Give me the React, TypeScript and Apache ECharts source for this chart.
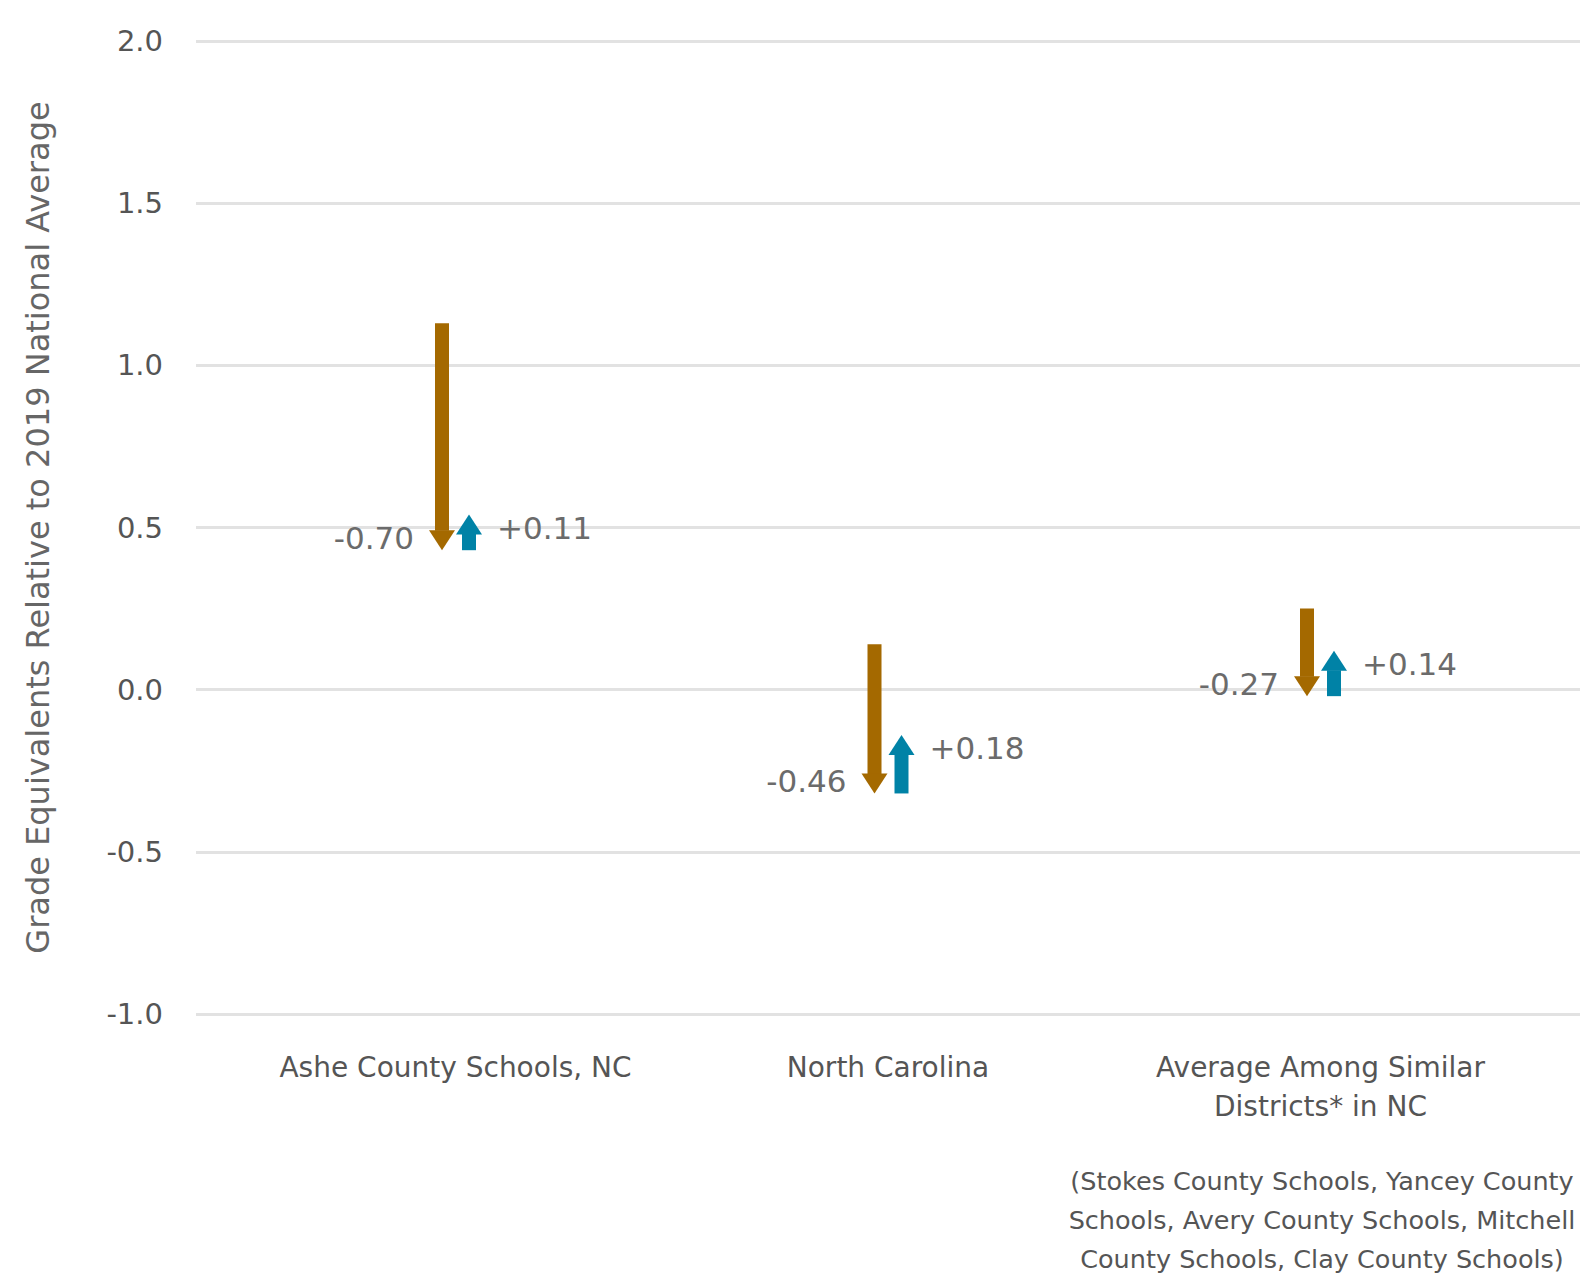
import React, { useEffect, useRef } from "react";
import * as echarts from "echarts";

const categories = [
  "Ashe County Schools, NC",
  "North Carolina",
  "Average Among Similar\nDistricts* in NC",
];
const baseline2019 = [1.13, 0.14, 0.25];
const decline = [-0.7, -0.46, -0.27];
const recovery = [0.11, 0.18, 0.14];
const yTicks = { min: -1.0, max: 2.0, interval: 0.5 };
const footnote =
  "(Stokes County Schools, Yancey County\nSchools, Avery County Schools, Mitchell\nCounty Schools, Clay County Schools)";

const BROWN = "#A46900";
const BLUE = "#0082A6";
const FONT = "DejaVu Sans";

export default function App() {
  const ref = useRef<HTMLDivElement>(null);
  useEffect(() => {
    document.body.style.margin = "0";
    if (!ref.current) return;
    const chart = echarts.init(ref.current, undefined, { renderer: "svg" });

    const dropData = categories.map((_, i) => [
      i,
      baseline2019[i],
      +(baseline2019[i] + decline[i]).toFixed(2),
      decline[i],
    ]);
    const recData = categories.map((_, i) => {
      const s = +(baseline2019[i] + decline[i]).toFixed(2);
      return [i, s, +(s + recovery[i]).toFixed(2), recovery[i]];
    });

    const headH = 20;
    const headW = 13;
    const shaftW = 7;

    const option: any = {
      animation: false,
      grid: { left: 196, right: 3, top: 41, bottom: 261, containLabel: false },
      xAxis: {
        type: "value",
        min: -0.6,
        max: 2.6,
        interval: 0.2,
        axisLine: { show: false },
        axisTick: { show: false },
        splitLine: { show: false },
        axisLabel: {
          margin: 34,
          fontSize: 28,
          lineHeight: 39,
          fontFamily: FONT,
          color: "#555555",
          formatter: (v: number) => {
            const r = Math.round(v);
            if (Math.abs(v - r) < 1e-6 && r >= 0 && r < categories.length)
              return categories[r];
            return "";
          },
        },
      },
      yAxis: {
        type: "value",
        min: yTicks.min,
        max: yTicks.max,
        interval: yTicks.interval,
        name: "Grade Equivalents Relative to 2019 National Average",
        nameLocation: "middle",
        nameGap: 142,
        nameTextStyle: { fontSize: 32, fontFamily: FONT, color: "#666666" },
        axisLine: { show: false },
        axisTick: { show: false },
        axisLabel: {
          margin: 33,
          fontSize: 29,
          fontFamily: FONT,
          color: "#555555",
          formatter: (v: number) => v.toFixed(1),
        },
        splitLine: { lineStyle: { color: "#E2E2E2", width: 3 } },
      },
      series: [
        {
          type: "custom",
          name: "Decline",
          data: dropData,
          renderItem: (params: any, api: any) => {
            const i = api.value(0);
            const s = api.value(1);
            const e = api.value(2);
            const d = api.value(3);
            const p0 = api.coord([i, s]);
            const p1 = api.coord([i, e]);
            const cx = p0[0] - 13.5;
            const y0 = p0[1];
            const y1 = p1[1];
            return {
              type: "group",
              children: [
                {
                  type: "rect",
                  shape: { x: cx - shaftW, y: y0, width: shaftW * 2, height: y1 - headH - y0 + 0.5 },
                  style: { fill: BROWN },
                },
                {
                  type: "polygon",
                  shape: {
                    points: [
                      [cx - headW, y1 - headH],
                      [cx + headW, y1 - headH],
                      [cx, y1],
                    ],
                  },
                  style: { fill: BROWN },
                },
                {
                  type: "text",
                  x: cx - 28,
                  y: y1 - 12,
                  style: {
                    text: d.toFixed(2),
                    fontSize: 31,
                    fontFamily: FONT,
                    fill: "#6B6B6B",
                    align: "right",
                    verticalAlign: "middle",
                  },
                },
              ],
            };
          },
        },
        {
          type: "custom",
          name: "Recovery",
          data: recData,
          renderItem: (params: any, api: any) => {
            const i = api.value(0);
            const s = api.value(1);
            const e = api.value(2);
            const d = api.value(3);
            const p0 = api.coord([i, s]);
            const p1 = api.coord([i, e]);
            const cx = p0[0] + 13.5;
            const y0 = p0[1];
            const y1 = p1[1];
            return {
              type: "group",
              children: [
                {
                  type: "rect",
                  shape: { x: cx - shaftW, y: y1 + headH - 0.5, width: shaftW * 2, height: y0 - (y1 + headH) + 0.5 },
                  style: { fill: BLUE },
                },
                {
                  type: "polygon",
                  shape: {
                    points: [
                      [cx - headW, y1 + headH],
                      [cx + headW, y1 + headH],
                      [cx, y1],
                    ],
                  },
                  style: { fill: BLUE },
                },
                {
                  type: "text",
                  x: cx + 28,
                  y: y1 + 13,
                  style: {
                    text: "+" + d.toFixed(2),
                    fontSize: 31,
                    fontFamily: FONT,
                    fill: "#6B6B6B",
                    align: "left",
                    verticalAlign: "middle",
                  },
                },
              ],
            };
          },
        },
      ],
      graphic: [
        {
          type: "text",
          x: 1322,
          y: 1161,
          style: {
            text: footnote,
            fontSize: 25.5,
            fontFamily: FONT,
            fill: "#555555",
            align: "center",
            verticalAlign: "top",
            lineHeight: 39,
          },
        },
      ],
    };
    chart.setOption(option);
    return () => chart.dispose();
  }, []);
  return <div ref={ref} style={{ width: 1583, height: 1275 }} />;
}
